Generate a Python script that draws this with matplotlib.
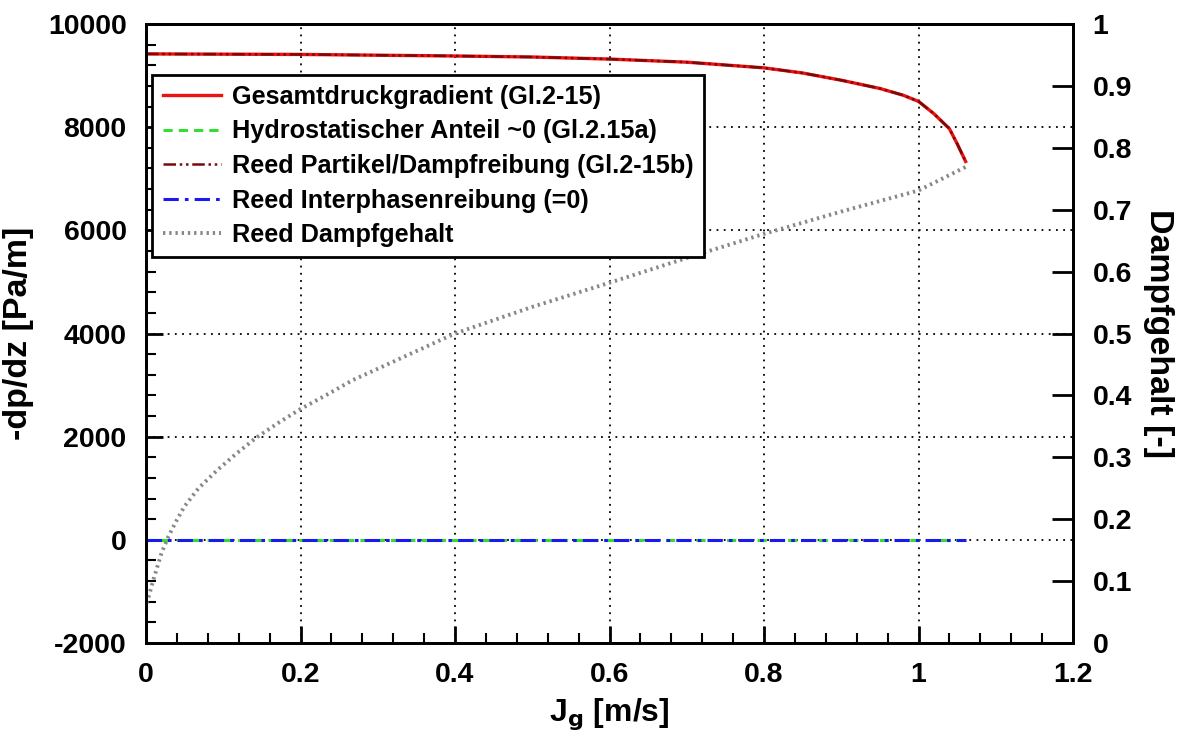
import matplotlib

matplotlib.use("Agg")
import matplotlib.pyplot as plt
from matplotlib.ticker import MultipleLocator

plt.rcParams["font.family"] = ["Liberation Sans", "DejaVu Sans"]
plt.rcParams["font.weight"] = "bold"
plt.rcParams["axes.unicode_minus"] = False

# Gesamtdruckgradient / Reed Partikel-Dampfreibung (left axis, Pa/m)
jg_dp = [0.0, 0.2, 0.4, 0.5, 0.6, 0.7, 0.8, 0.85, 0.9, 0.95, 0.98,
         1.0, 1.02, 1.04, 1.05, 1.061]
dp_total = [9420, 9410, 9380, 9360, 9320, 9260, 9150, 9050, 8910, 8750,
            8620, 8500, 8260, 7970, 7680, 7335]
dp_reed = dp_total

# hydrostatic and interphase parts (~0)
jg_zero = [0.0, 1.061]
dp_hydro = [0.0, 0.0]
dp_inter = [0.0, 0.0]

# Reed Dampfgehalt (right axis, -)
jg_void = [0.001, 0.0095, 0.02, 0.029, 0.04, 0.05, 0.068, 0.092, 0.117,
           0.143, 0.173, 0.2, 0.234, 0.268, 0.3, 0.4, 0.5, 0.6, 0.7, 0.8,
           0.9, 1.0, 1.061]
void = [0.064, 0.102, 0.145, 0.172, 0.199, 0.221, 0.25, 0.279, 0.306,
        0.332, 0.357, 0.378, 0.401, 0.425, 0.443, 0.5, 0.543, 0.582, 0.622,
        0.661, 0.697, 0.731, 0.769]

fig = plt.figure(figsize=(11.87, 7.45), dpi=100)
ax = fig.add_axes([146 / 1187, 1 - 643 / 745, 927 / 1187, 619 / 745])
ax2 = ax.twinx()

h1, = ax.plot(jg_dp, dp_total, color="#ee1111", lw=2.4,
              label="Gesamtdruckgradient (Gl.2-15)")
h2, = ax.plot(jg_zero, dp_hydro, color="#33dd33", lw=2.2, ls=(0, (3, 2)),
              label="Hydrostatischer Anteil ~0 (Gl.2.15a)")
h3, = ax.plot(jg_dp, dp_reed, color="#7a0a0a", lw=1.8,
              ls=(0, (5, 1.5, 1, 1.5, 1, 1.5)),
              label="Reed Partikel/Dampfreibung (Gl.2-15b)")
h4, = ax.plot(jg_zero, dp_inter, color="#1a1aee", lw=2.2,
              ls=(0, (5, 2, 1.2, 2)),
              label="Reed Interphasenreibung (=0)")
h5, = ax2.plot(jg_void, void, color="#888888", lw=2.8, ls=(0, (0.6, 1.0)),
               label="Reed Dampfgehalt")

ax.set_xlim(0, 1.2)
ax.set_ylim(-2000, 10000)
ax2.set_ylim(0, 1)

ax.xaxis.set_minor_locator(MultipleLocator(0.04))
ax.yaxis.set_major_locator(MultipleLocator(2000))
ax.yaxis.set_minor_locator(MultipleLocator(400))

ax.set_xticks([0, 0.2, 0.4, 0.6, 0.8, 1.0, 1.2])
ax.set_xticklabels(["0", "0.2", "0.4", "0.6", "0.8", "1", "1.2"])
ax2.set_yticks([0, 0.1, 0.2, 0.3, 0.4, 0.5, 0.6, 0.7, 0.8, 0.9, 1.0])
ax2.set_yticklabels(["0", "0.1", "0.2", "0.3", "0.4", "0.5", "0.6", "0.7",
                     "0.8", "0.9", "1"])

ax.tick_params(which="major", direction="in", length=12, width=2,
               labelsize=20.5, pad=14, top=False, right=False)
ax.tick_params(which="minor", direction="in", length=7, width=1.5,
               top=False, right=False)
ax.tick_params(axis="x", pad=14)
ax2.tick_params(which="major", direction="in", length=15, width=2,
                labelsize=20.5, pad=14)

for a in (ax, ax2):
    for s in a.spines.values():
        s.set_linewidth(2)

ax.grid(True, which="major", color="black", ls=(0, (1, 3)), lw=1.3)

ax.set_xlabel("J$_\\mathbf{g}$ [m/s]", fontsize=23, fontweight="bold",
              labelpad=6)
ax.set_ylabel("-dp/dz [Pa/m]", fontsize=24.5, fontweight="bold",
              labelpad=10)
ax2.set_ylabel("Dampfgehalt [-]", fontsize=24.5, fontweight="bold",
               rotation=270, labelpad=30)

leg = ax2.legend(handles=[h1, h2, h3, h4, h5], loc="upper left",
                 bbox_to_anchor=(0.007, 0.918), fontsize=18.2, frameon=True,
                 fancybox=False, borderaxespad=0, handlelength=2.3,
                 handletextpad=0.45, labelspacing=0.42, borderpad=0.4)
leg.get_frame().set_edgecolor("black")
leg.get_frame().set_linewidth(2)
leg.get_frame().set_alpha(1)

fig.savefig("out.png", dpi=100)
